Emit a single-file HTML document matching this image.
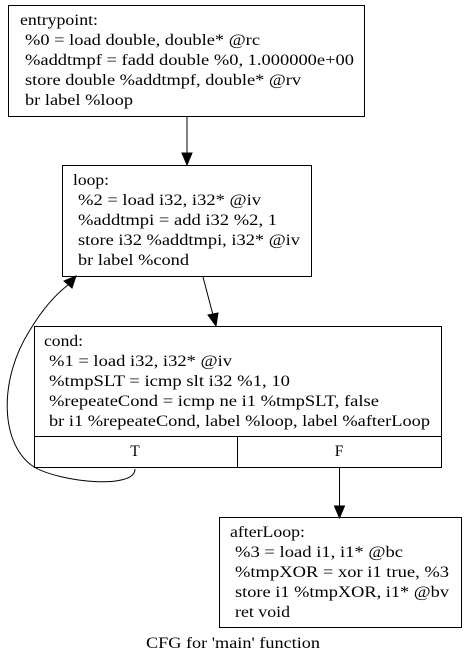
<!DOCTYPE html>
<html><head><style>
html,body{margin:0;padding:0;background:#fff;}
svg{display:block;}
text{font-family:"Liberation Serif",serif;font-size:15.5px;fill:#000;}
</style></head><body>
<svg width="467" height="664" viewBox="0 0 467 664" xmlns="http://www.w3.org/2000/svg">
<g fill="none" stroke="#000" stroke-width="1">
<rect x="8.5" y="5.5" width="356" height="111"/>
<rect x="62.5" y="165.5" width="249" height="111"/>
<rect x="34.5" y="326.5" width="407" height="141"/>
<line x1="34.5" y1="436.5" x2="441.5" y2="436.5"/>
<line x1="237.5" y1="436.5" x2="237.5" y2="467.5"/>
<rect x="219.5" y="517.5" width="242" height="110"/>
<line x1="187" y1="117" x2="187" y2="154"/>
<line x1="203" y1="277" x2="213" y2="315"/>
<line x1="339.5" y1="468" x2="339.5" y2="506"/>
<path d="M135,469 C135,490 60,482 34,467 C0,445 -2,380 30,330 C42,310 55,295 68,285"/>
</g>
<g fill="#000" stroke="#000">
<polygon points="182,153 192,153 187,165"/>
<polygon points="208,315 218,313 216,326"/>
<polygon points="334.5,506 344.5,506 339.5,518"/>
<polygon points="64,281 72,288 76,276"/>
</g>
<g lengthAdjust="spacingAndGlyphs">
<text x="20" y="25" textLength="78" lengthAdjust="spacingAndGlyphs">entrypoint:</text>
<text x="25" y="45" textLength="235" lengthAdjust="spacingAndGlyphs">%0 = load double, double* @rc</text>
<text x="25" y="65" textLength="329" lengthAdjust="spacingAndGlyphs">%addtmpf = fadd double %0, 1.000000e+00</text>
<text x="25" y="85" textLength="276" lengthAdjust="spacingAndGlyphs">store double %addtmpf, double* @rv</text>
<text x="25" y="105" textLength="108" lengthAdjust="spacingAndGlyphs">br label %loop</text>
<text x="73" y="185" textLength="36" lengthAdjust="spacingAndGlyphs">loop:</text>
<text x="78" y="205" textLength="183" lengthAdjust="spacingAndGlyphs">%2 = load i32, i32* @iv</text>
<text x="78" y="225" textLength="199" lengthAdjust="spacingAndGlyphs">%addtmpi = add i32 %2, 1</text>
<text x="78" y="245" textLength="222" lengthAdjust="spacingAndGlyphs">store i32 %addtmpi, i32* @iv</text>
<text x="78" y="265" textLength="111" lengthAdjust="spacingAndGlyphs">br label %cond</text>
<text x="44" y="346" textLength="39" lengthAdjust="spacingAndGlyphs">cond:</text>
<text x="49" y="366" textLength="183" lengthAdjust="spacingAndGlyphs">%1 = load i32, i32* @iv</text>
<text x="49" y="386" textLength="241" lengthAdjust="spacingAndGlyphs">%tmpSLT = icmp slt i32 %1, 10</text>
<text x="49" y="406" textLength="330" lengthAdjust="spacingAndGlyphs">%repeateCond = icmp ne i1 %tmpSLT, false</text>
<text x="49" y="426" textLength="381" lengthAdjust="spacingAndGlyphs">br i1 %repeateCond, label %loop, label %afterLoop</text>
<text x="135" y="456" text-anchor="middle">T</text>
<text x="339" y="456" text-anchor="middle">F</text>
<text x="230" y="537" textLength="75" lengthAdjust="spacingAndGlyphs">afterLoop:</text>
<text x="235" y="557" textLength="168" lengthAdjust="spacingAndGlyphs">%3 = load i1, i1* @bc</text>
<text x="235" y="577" textLength="214" lengthAdjust="spacingAndGlyphs">%tmpXOR = xor i1 true, %3</text>
<text x="235" y="597" textLength="214" lengthAdjust="spacingAndGlyphs">store i1 %tmpXOR, i1* @bv</text>
<text x="235" y="617" textLength="55" lengthAdjust="spacingAndGlyphs">ret void</text>
<text x="146" y="648" textLength="174" lengthAdjust="spacingAndGlyphs">CFG for 'main' function</text>
</g>
</svg>
</body></html>
